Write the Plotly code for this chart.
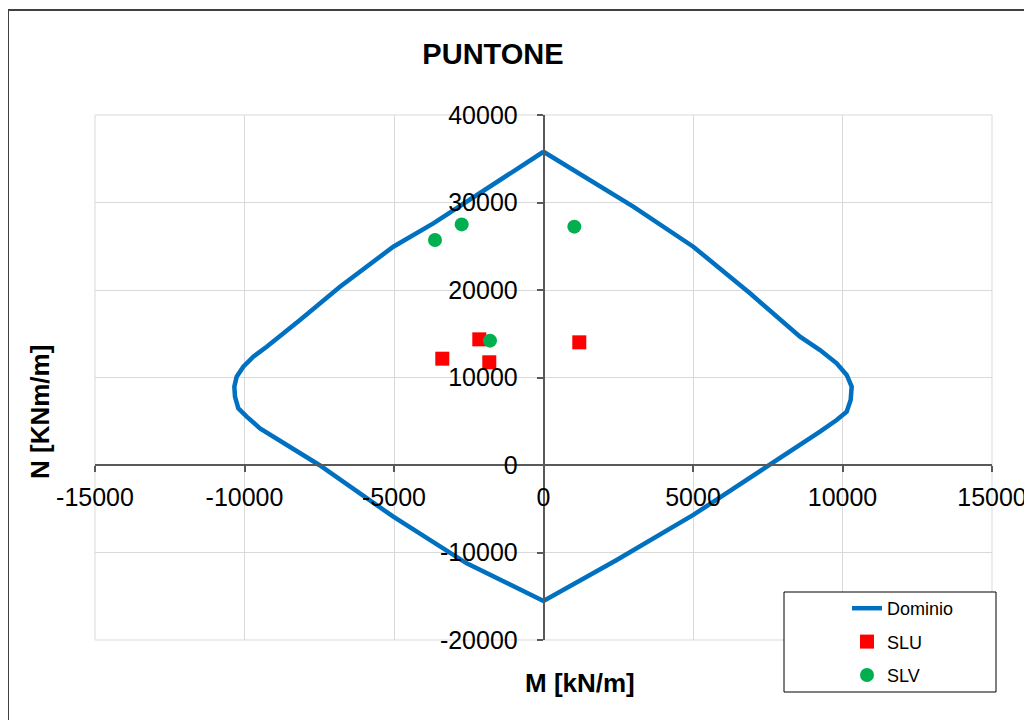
import plotly.graph_objects as go

# ---- data ----
domain_M = [0, 1500, 3003, 5010, 6906, 8579, 9247, 9805, 10140, 10307, 10273, 10140, 9805, 9247,
            7575, 5010, 2448, 0, -2569, -5023, -7500, -8144, -9482, -9927, -10207, -10318,
            -10340, -10262, -10040, -9705, -9258, -8144, -6806, -5023, -3685, -1455, 0]
domain_N = [35800, 32700, 29520, 24950, 19620, 14660, 13140, 11620, 10290, 8950, 7430, 6090, 5140, 3810,
            0, -5710, -10860, -15540, -11240, -5910, 0, 1340, 4190, 5520, 6480, 7810,
            8950, 10090, 11230, 12380, 13520, 16570, 20380, 24950, 27620, 32570, 35800]

slu_M = [-2147, -3385, -1813, 1197]
slu_N = [14360, 12150, 11740, 14020]

slv_M = [-3629, -2736, 1031, -1789]
slv_N = [25710, 27500, 27240, 14210]

x_range = [-15000, 15000]
y_range = [-20000, 40000]
x_ticks = [-15000, -10000, -5000, 0, 5000, 10000, 15000]
x_ticktext = ["-15000", "-10000", "-5000", "0", "5000", "10000", "15000"]
y_ticks = [-20000, -10000, 0, 10000, 20000, 30000, 40000]
y_ticktext = ["-20000", "-10000", "0", "10000", "20000", "30000", "40000"]

FONT = "Liberation Sans, Arial, sans-serif"
OFF = 8  # page body margin

fig = go.Figure()
fig.add_trace(go.Scatter(x=domain_M, y=domain_N, mode="lines", name="Dominio",
                         line=dict(color="#0070C0", width=4.5), legendgroup="a"))
fig.add_trace(go.Scatter(x=slu_M, y=slu_N, mode="markers", name="SLU",
                         marker=dict(symbol="square", color="#FF0000", size=14), legendgroup="b"))
fig.add_trace(go.Scatter(x=slv_M, y=slv_N, mode="markers", name="SLV",
                         marker=dict(symbol="circle", color="#00B050", size=14), legendgroup="c"))

xpos = (0 - y_range[0]) / (y_range[1] - y_range[0])
ypos = (0 - x_range[0]) / (x_range[1] - x_range[0])

axis_common = dict(showgrid=True, gridcolor="#D9D9D9", gridwidth=1, zeroline=False,
                   showline=True, linecolor="#595959", linewidth=1.5,
                   ticks="outside", ticklen=6, tickcolor="#595959", tickwidth=1.5,
                   tickfont=dict(family=FONT, size=25, color="#000000"),
                   anchor="free", automargin=False, tickmode="array")

fig.update_layout(
    width=1032, height=720,
    paper_bgcolor="white", plot_bgcolor="white",
    margin=dict(l=95 - OFF, r=40 + OFF, t=115 - OFF, b=80 + OFF),
    title=dict(text="<b>PUNTONE</b>", x=(493 - OFF) / 1032, y=1 - (54 - OFF) / 720,
               xref="container", yref="container", xanchor="center", yanchor="middle",
               font=dict(family=FONT, size=29, color="#000000")),
    xaxis=dict(range=x_range, tickvals=x_ticks, ticktext=x_ticktext, position=xpos,
               ticklabelstandoff=4, **axis_common),
    yaxis=dict(range=y_range, tickvals=y_ticks, ticktext=y_ticktext, position=ypos,
               ticklabelstandoff=14, **axis_common),
    showlegend=True,
    legend=dict(x=(847 - 95) / 897, y=(640 - 590) / 525, xanchor="left", yanchor="top",
                bgcolor="rgba(0,0,0,0)", borderwidth=0, tracegroupgap=7,
                font=dict(family=FONT, size=18, color="#000000")),
    annotations=[
        dict(text="<b>M [kN/m]</b>", x=(580 - 95) / 897, y=(640 - 683) / 525, xref="paper", yref="paper",
             showarrow=False, xanchor="center", yanchor="middle",
             font=dict(family=FONT, size=26, color="#000000")),
        dict(text="<b>N [KNm/m]</b>", x=(40 - 95) / 897, y=(640 - 412) / 525, xref="paper", yref="paper",
             showarrow=False, xanchor="center", yanchor="middle", textangle=-90,
             font=dict(family=FONT, size=26, color="#000000")),
    ],
    shapes=[
        dict(type="rect", xref="paper", yref="paper", x0=(8 - 95) / 897, x1=1.2,
             y0=-0.3, y1=(640 - 10) / 525, line=dict(color="#404040", width=2),
             fillcolor="rgba(0,0,0,0)", layer="below"),
        dict(type="rect", xref="paper", yref="paper", x0=0, x1=1, y0=0, y1=1,
             line=dict(color="#D9D9D9", width=1), fillcolor="rgba(0,0,0,0)", layer="below"),
        dict(type="rect", xref="paper", yref="paper", x0=(784 - 95) / 897, x1=(996 - 95) / 897,
             y0=(640 - 692) / 525, y1=(640 - 592) / 525, line=dict(color="#000000", width=1),
             fillcolor="white", layer="above"),
    ],
)

fig.write_html("out.html")
